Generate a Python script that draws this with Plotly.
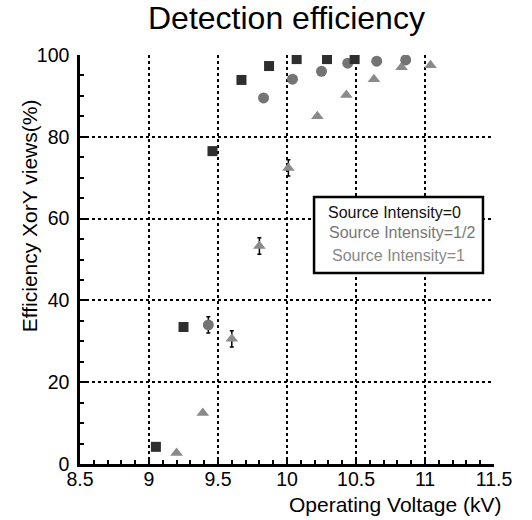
import plotly.graph_objects as go

# Source Intensity = 0 (squares)
sq_x = [9.05, 9.25, 9.46, 9.67, 9.87, 10.07, 10.29, 10.49]
sq_y = [4.2, 33.5, 76.5, 93.9, 97.3, 99.0, 99.0, 99.0]

# Source Intensity = 1/2 (circles)
ci_x = [9.43, 9.83, 10.04, 10.25, 10.44, 10.65, 10.86]
ci_y = [34.0, 89.5, 94.1, 96.0, 98.0, 98.5, 98.8]
ci_err = [2.0, None, None, None, None, None, None]

# Source Intensity = 1 (triangles)
tr_x = [9.20, 9.39, 9.60, 9.80, 10.01, 10.22, 10.43, 10.63, 10.83, 11.04]
tr_y = [2.7, 12.5, 30.6, 53.3, 72.4, 85.0, 90.2, 94.1, 97.0, 97.5]
tr_err = [None, None, 2.0, 2.0, 2.0, None, None, None, None, None]

legend_labels = ["Source Intensity=0", "Source Intensity=1/2", "Source Intensity=1"]
colors = ["#2e2e2e", "#747474", "#8a8a8a"]

x_ticks = [8.5, 9, 9.5, 10, 10.5, 11, 11.5]
x_ticklabels = ["8.5", "9", "9.5", "10", "10.5", "11", "11.5"]
y_ticks = [0, 20, 40, 60, 80, 100]

FONT = "Liberation Sans, Arial, Helvetica, sans-serif"

fig = go.Figure()
fig.add_trace(go.Scatter(
    x=tr_x, y=tr_y, mode="markers", name=legend_labels[2],
    marker=dict(symbol="triangle-up", size=11, color=colors[2]),
    error_y=dict(type="data", array=tr_err, color="black", thickness=1.5, width=2),
))
fig.add_trace(go.Scatter(
    x=ci_x, y=ci_y, mode="markers", name=legend_labels[1],
    marker=dict(symbol="circle", size=11, color=colors[1]),
    error_y=dict(type="data", array=ci_err, color="black", thickness=1.5, width=2),
))
fig.add_trace(go.Scatter(
    x=sq_x, y=sq_y, mode="markers", name=legend_labels[0],
    marker=dict(symbol="square", size=10, color=colors[0]),
))

axis_common = dict(
    showgrid=True, gridcolor="black", gridwidth=1.5, griddash="dot",
    showline=True, linecolor="black", linewidth=2.5,
    ticks="inside", ticklen=6, tickwidth=2, tickcolor="black",
    zeroline=False, automargin=False,
    tickfont=dict(family=FONT, size=19.5, color="black"),
)

fig.update_xaxes(
    range=[8.5, 11.5], tickvals=x_ticks, ticktext=x_ticklabels,
    ticklabelstandoff=-4,
    minor=dict(dtick=0.1, ticks="inside", ticklen=4, tickwidth=1.5, tickcolor="black", showgrid=False),
    **axis_common,
)
fig.update_yaxes(
    range=[0, 100], tickvals=y_ticks,
    ticklabelstandoff=4,
    minor=dict(dtick=5, ticks="inside", ticklen=4, tickwidth=1.5, tickcolor="black", showgrid=False),
    **axis_common,
)

# y title
fig.add_annotation(
    text="Efficiency XorY views(%)", xref="paper", yref="paper", x=-0.123, y=0.606,
    xanchor="center", yanchor="middle", textangle=-90, showarrow=False,
    font=dict(family=FONT, size=21, color="black"),
)
# x title right-aligned below axis
fig.add_annotation(
    text="Operating Voltage (kV)", xref="paper", yref="paper", x=1.0217, y=-0.100,
    xanchor="right", yanchor="middle", showarrow=False,
    font=dict(family=FONT, size=21, color="black"),
)
# title
fig.add_annotation(
    text="Detection efficiency", xref="paper", yref="paper", x=0.4976, y=1.090,
    xanchor="center", yanchor="middle", showarrow=False,
    font=dict(family=FONT, size=32, color="black"),
)

# legend box drawn as shape + text
fig.add_shape(type="rect", xref="x", yref="y", x0=10.196, x1=11.42,
              y0=46.7, y1=65.3, line=dict(color="black", width=2.5), fillcolor="white", layer="above")
ly = [61.6, 56.6, 51.1]
lx = [10.283, 10.29, 10.312]
for txt, c, yy, xx in zip(legend_labels, ["#111111", "#777777", "#888888"], ly, lx):
    fig.add_annotation(text=txt, x=xx, y=yy, xref="x", yref="y", showarrow=False,
                       xanchor="left", yanchor="middle",
                       font=dict(family=FONT, size=16, color=c))

fig.update_layout(
    width=532, height=520,
    margin=dict(l=80, r=38, t=55, b=56),
    paper_bgcolor="white", plot_bgcolor="white",
    showlegend=False,
)

fig.write_html("out.html", config={"displayModeBar": False},
               post_script="document.body.style.margin='0';")
